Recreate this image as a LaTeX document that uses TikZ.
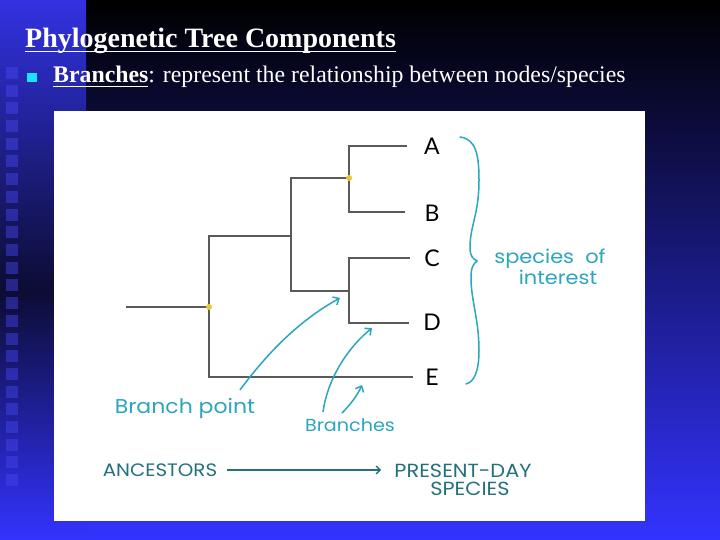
\documentclass[tikz,border=0pt]{standalone}
\usepackage{fontspec}
\setmainfont{Liberation Serif}
\newfontfamily\labelfont{Lato}
\newfontfamily\handfont[FakeStretch=1.1]{Poppins}
\usetikzlibrary{arrows.meta}
\definecolor{treegray}{HTML}{5A5A5A}
\definecolor{dotyellow}{HTML}{E8C43A}
\definecolor{tealhand}{HTML}{2BA6BE}
\definecolor{tealdark}{HTML}{23707F}
\definecolor{bulletcyan}{HTML}{1CE4F8}
\definecolor{slideblue}{RGB}{51,51,255}
\definecolor{slidemid}{RGB}{24,24,140}
\definecolor{stripdark}{RGB}{12,12,52}
\definecolor{striptop}{RGB}{50,50,226}
\definecolor{sqcolor}{RGB}{70,70,240}
\newcommand\myul[1]{\setbox0\hbox{#1}\rlap{\rule[-4.2pt]{\wd0}{1.6pt}}#1}
\tikzset{
  branch/.style={draw=treegray, line width=2.3pt, line join=miter},
  leaflabel/.style={font=\labelfont\fontsize{23}{25}\selectfont, text=black, inner sep=0pt},
  handlabel/.style={text=tealhand, inner sep=0pt},
  capslabel/.style={text=tealdark, inner sep=0pt},
  tealarrow/.style={draw=tealhand, line width=1.5pt, -{Straight Barb[length=5pt,width=9pt]}},
  dot/.style={circle, fill=dotyellow, inner sep=0pt, minimum size=6pt},
  sq/.style={fill=sqcolor, fill opacity=0.45}
}
\begin{document}
\begin{tikzpicture}[x=1pt,y=-1pt]
\useasboundingbox (0,0) rectangle (720,540);
% slide background
\shade[top color=black, middle color=slidemid, bottom color=slideblue] (0,0) rectangle (720,540);
\shade[top color=striptop, bottom color=stripdark] (0,0) rectangle (86,290);
\shade[top color=stripdark, bottom color=slideblue] (0,290) rectangle (86,540);
\foreach \i in {0,...,23} {
  \fill[sq] (6,{67+17.7*\i}) rectangle (18,{79+17.7*\i});
}
% title and bullet
\node[anchor=base west, text=white, font=\fontsize{28}{30}\selectfont\bfseries, inner sep=0pt] (title) at (25,48) {\myul{Phylogenetic Tree Components}};
\node[fill=bulletcyan, minimum size=9.5pt, inner sep=0pt] (bullet) at (32,77.5) {};
\node[anchor=base west, text=white, font=\fontsize{23.8}{26}\selectfont, inner sep=0pt] (bullettext) at (53,83) {\myul{\textbf{Branches}}: represent the relationship between nodes/species};
% white picture area
\fill[white] (54,111) rectangle (645,521);
% tree
\coordinate (r0) at (126,307);
\coordinate (n1) at (209,307);
\coordinate (n2) at (291,236);
\coordinate (n3) at (349,178);
\coordinate (n4) at (349,291);
\coordinate (tA) at (407,146);
\coordinate (tB) at (405,212);
\coordinate (tC) at (410,258);
\coordinate (tD) at (409,323);
\coordinate (tE) at (413,377);
\draw[branch] (r0) -- (n1);
\draw[branch] (n1) |- (n2);
\draw[branch] (n1) |- (tE);
\draw[branch] (n2) |- (n3);
\draw[branch] (n2) |- (n4);
\draw[branch] (n3) |- (tA);
\draw[branch] (n3) |- (tB);
\draw[branch] (n4) |- (tC);
\draw[branch] (n4) |- (tD);
\node[dot] (dot1) at (n1) {};
\node[dot] (dot3) at (n3) {};
\node[leaflabel] (A) at (432,146) {A};
\node[leaflabel] (B) at (432,213) {B};
\node[leaflabel] (C) at (432,258) {C};
\node[leaflabel] (D) at (432,322) {D};
\node[leaflabel] (E) at (432,377) {E};
% brace
\draw[draw=tealhand, line width=1.5pt, line cap=round]
  (460,137) .. controls (476,139) and (479,155) .. (479,180)
  .. controls (479,215) and (470,225) .. (470,248)
  .. controls (470,256) and (473,259) .. (477,261)
  .. controls (473,264) and (471,268) .. (471,278)
  .. controls (471,300) and (479,320) .. (479,350)
  .. controls (479,372) and (474,382) .. (466,384);
\node[handlabel, font=\handfont\fontsize{19}{20}\selectfont] (species) at (550,259) {species\ \ of};
\node[handlabel, font=\handfont\fontsize{19}{20}\selectfont] (interest) at (558,277) {interest};
% handwritten labels and arrows
\node[handlabel, font=\handfont\fontsize{20}{21}\selectfont] (bpoint) at (185,408) {Branch point};
\node[handlabel, font=\handfont\fontsize{17.4}{19}\selectfont] (branches) at (350,425) {Branches};
\coordinate (a1s) at (240,390);
\coordinate (a1e) at (340,298);
\coordinate (a2s) at (323,412);
\coordinate (a2e) at (372,328);
\coordinate (a3s) at (342,413);
\coordinate (a3e) at (362,385);
\draw[tealarrow] (a1s) .. controls (268,352) and (300,320) .. (a1e);
\draw[tealarrow] (a2s) .. controls (327,382) and (345,350) .. (a2e);
\draw[tealarrow] (a3s) .. controls (350,405) and (357,396) .. (a3e);
% ancestors arrow
\node[capslabel, font=\handfont\fontsize{18}{19}\selectfont] (anc) at (160,470) {ANCESTORS};
\node[capslabel, font=\handfont\fontsize{19}{20}\selectfont] (present) at (463,471) {PRESENT-DAY};
\node[capslabel, font=\handfont\fontsize{19}{20}\selectfont] (speciesB) at (470,489) {SPECIES};
\coordinate (ancS) at (227,470);
\coordinate (ancE) at (381,470);
\draw[draw=tealdark, line width=1.4pt, -{Straight Barb[length=4pt,width=8pt]}] (ancS) -- (ancE);
\end{tikzpicture}
\end{document}
